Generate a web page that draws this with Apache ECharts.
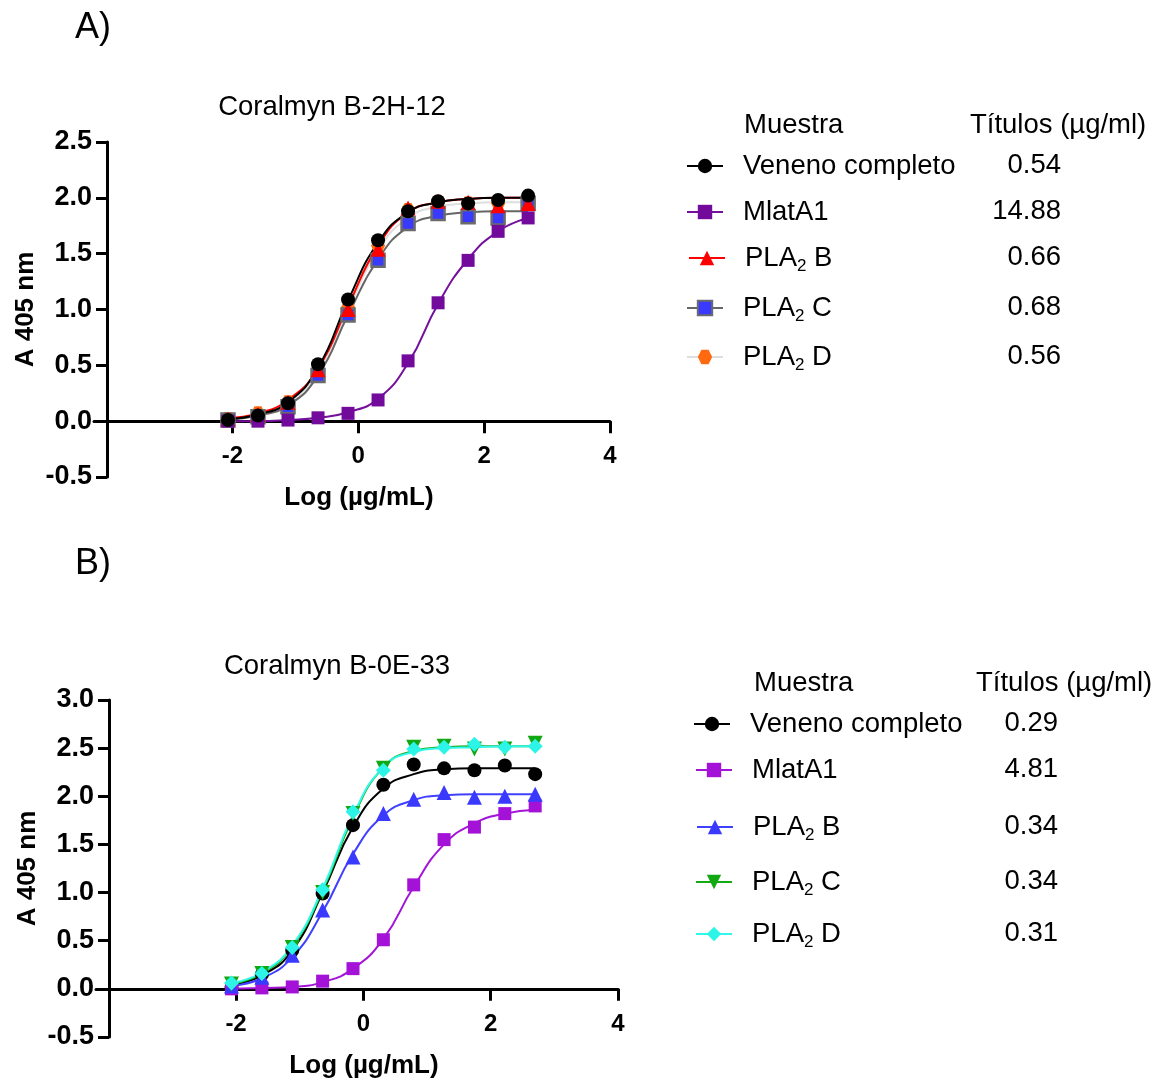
<!DOCTYPE html>
<html lang="es">
<head>
<meta charset="utf-8">
<title>Coralmyn B-2H-12 / B-0E-33</title>
<style>
  html, body { margin: 0; background: #fff; }
  #chart { width: 1160px; height: 1084px; }
</style>
</head>
<body>
<div id="chart"></div>
<script src="https://cdn.jsdelivr.net/npm/echarts@6/dist/echarts.min.js"></script>
<script>
var FONT = '"Liberation Sans", Arial, Helvetica, sans-serif';

// log10 de la concentración (diluciones 1:3)
var logConc = [-2.071, -1.594, -1.117, -0.640, -0.163, 0.314, 0.791, 1.268, 1.745, 2.222, 2.699];

var muestras = ['Veneno completo', 'MlatA1', 'PLA2 B', 'PLA2 C', 'PLA2 D'];
var titulosA = ['0.54', '14.88', '0.66', '0.68', '0.56'];
var titulosB = ['0.29', '4.81', '0.34', '0.34', '0.31'];

// ---- A) Coralmyn B-2H-12 : puntos ----
var aVeneno = [0.01, 0.05, 0.16, 0.51, 1.09, 1.62, 1.88, 1.97, 1.95, 1.98, 2.02];
var aMlat   = [0.00, 0.00, 0.01, 0.03, 0.07, 0.19, 0.54, 1.06, 1.44, 1.70, 1.82];
var aPlaB   = [0.02, 0.06, 0.17, 0.46, 1.00, 1.54, 1.91, 1.97, 1.96, 1.93, 1.95];
var aPlaC   = [0.01, 0.04, 0.13, 0.41, 0.95, 1.44, 1.77, 1.86, 1.83, 1.82, 1.95];
var aPlaD   = [0.02, 0.07, 0.17, 0.47, 1.02, 1.57, 1.89, 1.96, 1.95, 1.95, 1.97];
// curvas ajustadas
var aVenenoFit = [0.02, 0.06, 0.17, 0.48, 1.08, 1.60, 1.87, 1.96, 1.99, 2.00, 2.00];
var aMlatFit   = [0.00, 0.00, 0.01, 0.03, 0.08, 0.20, 0.52, 1.05, 1.45, 1.70, 1.82];
var aPlaBFit   = [0.03, 0.07, 0.19, 0.47, 1.03, 1.57, 1.87, 1.96, 1.99, 2.00, 2.00];
var aPlaCFit   = [0.01, 0.05, 0.14, 0.41, 0.95, 1.45, 1.74, 1.84, 1.87, 1.88, 1.88];
var aPlaDFit   = [0.02, 0.06, 0.16, 0.45, 1.00, 1.53, 1.82, 1.92, 1.95, 1.96, 1.96];

// ---- B) Coralmyn B-0E-33 : puntos ----
var bVeneno = [0.02, 0.15, 0.40, 0.99, 1.70, 2.12, 2.33, 2.29, 2.27, 2.32, 2.23];
var bMlat   = [0.00, 0.01, 0.02, 0.08, 0.21, 0.51, 1.08, 1.55, 1.68, 1.82, 1.90];
var bPlaB   = [0.03, 0.12, 0.35, 0.82, 1.37, 1.82, 1.97, 2.04, 1.99, 2.00, 2.02];
var bPlaC   = [0.05, 0.16, 0.43, 1.00, 1.82, 2.29, 2.51, 2.52, 2.49, 2.49, 2.55];
var bPlaD   = [0.06, 0.16, 0.43, 1.03, 1.84, 2.27, 2.49, 2.51, 2.54, 2.51, 2.52];
var bVenenoFit = [0.04, 0.14, 0.40, 1.00, 1.68, 2.08, 2.23, 2.28, 2.29, 2.29, 2.29];
var bMlatFit   = [0.00, 0.01, 0.02, 0.07, 0.21, 0.52, 1.06, 1.50, 1.72, 1.82, 1.86];
var bPlaBFit   = [0.03, 0.11, 0.33, 0.80, 1.40, 1.80, 1.96, 2.01, 2.02, 2.02, 2.02];
var bPlaCFit   = [0.05, 0.16, 0.44, 1.02, 1.78, 2.30, 2.47, 2.51, 2.52, 2.52, 2.52];
var bPlaDFit   = [0.06, 0.17, 0.45, 1.04, 1.80, 2.30, 2.46, 2.50, 2.51, 2.52, 2.52];

var HEXAGON = 'path://M-10,0 L-5,-8.66 L5,-8.66 L10,0 L5,8.66 L-5,8.66 Z';
var TXT = 27.5;

function pairs(ys) {
  return logConc.map(function (x, i) { return [x, ys[i]]; });
}

var series = [];
var legends = [];

// cada muestra: curva ajustada + puntos
function addSample(idx, name, pts, fit, st, legendPos) {
  var sname = (idx === 0 ? 'A·' : 'B·') + name;
  series.push({
    type: 'line', name: sname + ' fit', xAxisIndex: idx, yAxisIndex: idx,
    data: pairs(fit), smooth: 0.5, symbol: 'none', silent: true,
    lineStyle: { color: st.line, width: 2 }
  });
  series.push({
    type: 'line', name: sname, xAxisIndex: idx, yAxisIndex: idx,
    data: pairs(pts), symbol: st.symbol, symbolSize: st.size, symbolRotate: st.rotate || 0,
    showAllSymbol: true, silent: true,
    lineStyle: { width: 0, opacity: 0 },
    itemStyle: { color: st.fill, borderColor: st.border || st.fill, borderWidth: st.borderWidth || 0, opacity: 1 }
  });
  legends.push({
    data: [{ name: sname, lineStyle: { color: st.line, width: 2, opacity: 1 } }],
    left: legendPos[0], top: legendPos[1] - 12, padding: 0,
    itemWidth: 36, itemHeight: 18, selectedMode: false,
    formatter: function (n) {
      var t = n.slice(2);
      if (t.indexOf('PLA2') === 0) return '{n|PLA}{s|2}{n|' + t.slice(4) + '}';
      return '{n|' + t + '}';
    },
    textStyle: {
      padding: [0, 0, 0, 15],
      rich: {
        n: { fontFamily: FONT, fontSize: TXT, lineHeight: 34, color: '#000' },
        s: { fontFamily: FONT, fontSize: 17, lineHeight: 14, verticalAlign: 'bottom', color: '#000' }
      }
    }
  });
}

// A (orden de dibujo: D, C, B, MlatA1, veneno)
var rowsA = [164, 210, 256, 306, 355];
addSample(0, muestras[4], aPlaD, aPlaDFit, { line: '#dedede', fill: '#ff6a10', symbol: HEXAGON, size: 14 }, [686, rowsA[4]]);
addSample(0, muestras[3], aPlaC, aPlaCFit, { line: '#666666', fill: '#3a3aff', border: '#6b6b6b', borderWidth: 2.5, symbol: 'rect', size: 13 }, [686, rowsA[3]]);
addSample(0, muestras[2], aPlaB, aPlaBFit, { line: '#ff0000', fill: '#ff0000', symbol: 'triangle', size: 15 }, [688, rowsA[2]]);
addSample(0, muestras[1], aMlat, aMlatFit, { line: '#74109c', fill: '#720a9c', symbol: 'rect', size: 13 }, [686, rowsA[1]]);
addSample(0, muestras[0], aVeneno, aVenenoFit, { line: '#000000', fill: '#000000', symbol: 'circle', size: 14 }, [686, rowsA[0]]);

// B (orden: veneno, MlatA1, B, C, D)
var rowsB = [722, 768, 825, 880, 932];
addSample(1, muestras[0], bVeneno, bVenenoFit, { line: '#000000', fill: '#000000', symbol: 'circle', size: 14 }, [693, rowsB[0]]);
addSample(1, muestras[1], bMlat, bMlatFit, { line: '#a414d8', fill: '#a412d8', symbol: 'rect', size: 13 }, [695, rowsB[1]]);
addSample(1, muestras[2], bPlaB, bPlaBFit, { line: '#4040ff', fill: '#3a3aff', symbol: 'triangle', size: 15 }, [696, rowsB[2]]);
addSample(1, muestras[3], bPlaC, bPlaCFit, { line: '#14aa14', fill: '#12a812', symbol: 'triangle', rotate: 180, size: 15 }, [695, rowsB[3]]);
addSample(1, muestras[4], bPlaD, bPlaDFit, { line: '#30f8ea', fill: '#2cf5e8', symbol: 'diamond', size: 15 }, [695, rowsB[4]]);

// las etiquetas del eje x se quedan en el borde inferior del grid: se suben con margin negativo
function xAxisOpt(idx, labelMargin) {
  return {
    type: 'value', gridIndex: idx, min: -4.2, max: 4,
    axisLine: { onZero: true, lineStyle: { color: '#000', width: 3 } },
    axisTick: { customValues: [-2, 0, 2, 4], length: 12, lineStyle: { color: '#000', width: 3 } },
    axisLabel: { customValues: [-2, 0, 2, 4], margin: labelMargin, color: '#000', fontFamily: FONT, fontWeight: 'bold', fontSize: 24 },
    splitLine: { show: false }
  };
}
function yAxisOpt(idx, max) {
  return {
    type: 'value', gridIndex: idx, min: -0.5, max: max, interval: 0.5, offset: -13,
    name: 'A 405 nm', nameLocation: 'middle', nameGap: 68,
    nameTextStyle: { color: '#000', fontFamily: FONT, fontWeight: 'bold', fontSize: 26 },
    axisLine: { show: true, onZero: false, lineStyle: { color: '#000', width: 3 } },
    axisTick: { show: true, length: 11, lineStyle: { color: '#000', width: 3 } },
    axisLabel: { margin: 15, color: '#000', fontFamily: FONT, fontWeight: 'bold', fontSize: 27,
      formatter: function (v) { return v.toFixed(1); } },
    splitLine: { show: false }
  };
}

function txt(x, y, s, opt) {
  opt = opt || {};
  return {
    type: 'text', x: x, y: y, silent: true,
    style: {
      text: s, fill: '#000', fontFamily: FONT,
      fontSize: opt.size || TXT, fontWeight: opt.bold ? 'bold' : 'normal',
      textAlign: opt.align || 'left', textVerticalAlign: 'middle'
    }
  };
}

var graphics = [
  txt(75, 28, 'A)', { size: 36 }),
  txt(332, 107, 'Coralmyn B-2H-12', { align: 'center' }),
  txt(359, 498, 'Log (µg/mL)', { align: 'center', bold: true, size: 26 }),
  txt(744, 125, 'Muestra'),
  txt(970, 125, 'Títulos (µg/ml)'),
  txt(75, 564, 'B)', { size: 36 }),
  txt(337, 666, 'Coralmyn B-0E-33', { align: 'center' }),
  txt(364, 1066, 'Log (µg/mL)', { align: 'center', bold: true, size: 26 }),
  txt(754, 683, 'Muestra'),
  txt(976, 683, 'Títulos (µg/ml)')
];
titulosA.forEach(function (t, i) { graphics.push(txt(1061, rowsA[i] + 1, t, { align: 'right' })); });
titulosB.forEach(function (t, i) { graphics.push(txt(1058, rowsB[i] + 1, t, { align: 'right' })); });

var chart = echarts.init(document.getElementById('chart'));
chart.setOption({
  backgroundColor: '#fff',
  animation: false,
  grid: [
    { left: 94, top: 142, width: 516, height: 335 },
    { left: 96, top: 700, width: 522, height: 337 }
  ],
  xAxis: [xAxisOpt(0, -33), xAxisOpt(1, -25)],
  yAxis: [yAxisOpt(0, 2.5), yAxisOpt(1, 3.0)],
  legend: legends,
  series: series,
  graphic: graphics
});
</script>
</body>
</html>
